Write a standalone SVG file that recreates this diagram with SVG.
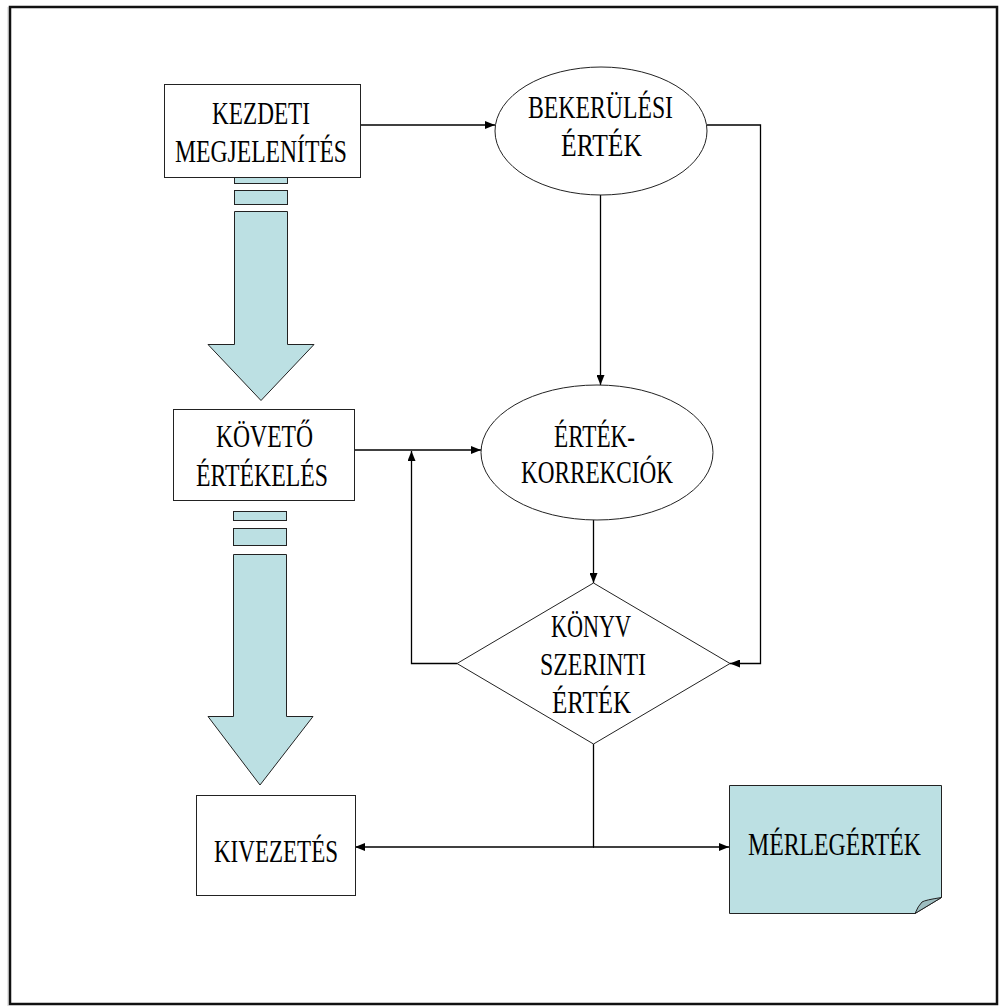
<svg xmlns="http://www.w3.org/2000/svg" width="999" height="1006" viewBox="0 0 999 1006">
<style>
.t{font-family:"Liberation Serif","Times New Roman",serif;font-size:31px;fill:#000}
.box{fill:#fff;stroke:#222;stroke-width:1}
.cy{fill:#bce0e3;stroke:#222;stroke-width:1}
.ln{fill:none;stroke:#000;stroke-width:1.3}
</style>
<defs>
<marker id="ah" markerUnits="userSpaceOnUse" markerWidth="10" markerHeight="8" refX="10" refY="4" orient="auto">
<path d="M0,0 L10,4 L0,8 z" fill="#000"/>
</marker>
</defs>
<rect x="0" y="0" width="999" height="1006" fill="#fff"/>
<line x1="8" y1="7" x2="8" y2="1006" stroke="#ccc" stroke-width="1"/>
<rect x="10" y="7" width="987" height="997" fill="none" stroke="#111" stroke-width="2.5"/>

<g id="bigarrow1">
<rect class="cy" x="234.5" y="176.5" width="53" height="7"/>
<rect class="cy" x="234.5" y="190.5" width="53" height="14"/>
<polygon class="cy" points="234.5,211.5 287.5,211.5 287.5,344.5 314,344.5 261,400.5 208,344.5 234.5,344.5"/>
</g>
<g id="bigarrow2">
<rect class="cy" x="233.5" y="511.5" width="53" height="9"/>
<rect class="cy" x="233.5" y="528.5" width="53" height="17"/>
<polygon class="cy" points="233.5,554.5 286.5,554.5 286.5,716.5 313,716.5 260,785 208,716.5 233.5,716.5"/>
</g>

<g id="connectors">
<line class="ln" x1="360" y1="125" x2="495" y2="125" marker-end="url(#ah)"/>
<line class="ln" x1="600.5" y1="195" x2="600.5" y2="385" marker-end="url(#ah)"/>
<polyline class="ln" points="707,125 760.5,125 760.5,663.5 730,663.5" marker-end="url(#ah)"/>
<line class="ln" x1="354" y1="450" x2="481" y2="450" marker-end="url(#ah)"/>
<polyline class="ln" points="457,663.5 411.5,663.5 411.5,451" marker-end="url(#ah)"/>
<line class="ln" x1="593.5" y1="520" x2="593.5" y2="583" marker-end="url(#ah)"/>
<line class="ln" x1="593.5" y1="744" x2="593.5" y2="847"/>
<line class="ln" x1="594" y1="847" x2="355" y2="847" marker-end="url(#ah)"/>
<line class="ln" x1="593" y1="847" x2="729" y2="847" marker-end="url(#ah)"/>
</g>

<g id="kezdeti">
<rect class="box" x="164.5" y="84.5" width="196" height="93"/>
<text class="t" x="212" y="124" textLength="98" lengthAdjust="spacingAndGlyphs">KEZDETI</text>
<text class="t" x="175" y="162" textLength="172" lengthAdjust="spacingAndGlyphs">MEGJELENÍTÉS</text>
</g>
<g id="bekerulesi">
<ellipse class="box" cx="601" cy="131" rx="106" ry="64"/>
<text class="t" x="528" y="118" textLength="145" lengthAdjust="spacingAndGlyphs">BEKERÜLÉSI</text>
<text class="t" x="561" y="156" textLength="81" lengthAdjust="spacingAndGlyphs">ÉRTÉK</text>
</g>
<g id="koveto">
<rect class="box" x="173.5" y="409.5" width="181" height="91"/>
<text class="t" x="216" y="447" textLength="97" lengthAdjust="spacingAndGlyphs">KÖVETŐ</text>
<text class="t" x="196" y="486" textLength="132" lengthAdjust="spacingAndGlyphs">ÉRTÉKELÉS</text>
</g>
<g id="korrekciok">
<ellipse class="box" cx="597" cy="452.5" rx="116" ry="67.5"/>
<text class="t" x="554" y="447" textLength="81" lengthAdjust="spacingAndGlyphs">ÉRTÉK-</text>
<text class="t" x="521" y="483" textLength="152" lengthAdjust="spacingAndGlyphs">KORREKCIÓK</text>
</g>
<g id="konyv">
<polygon class="box" points="593.5,583 730,663.5 593.5,744 457,663.5"/>
<text class="t" x="551" y="637" textLength="80" lengthAdjust="spacingAndGlyphs">KÖNYV</text>
<text class="t" x="540" y="675" textLength="106" lengthAdjust="spacingAndGlyphs">SZERINTI</text>
<text class="t" x="552" y="713" textLength="79" lengthAdjust="spacingAndGlyphs">ÉRTÉK</text>
</g>
<g id="kivezetes">
<rect class="box" x="196.5" y="795.5" width="159" height="100"/>
<text class="t" x="214" y="862" textLength="124" lengthAdjust="spacingAndGlyphs">KIVEZETÉS</text>
</g>
<g id="merleg">
<polygon class="cy" points="729.5,785.5 941.5,785.5 941.5,897.5 915,913.5 729.5,913.5"/>
<path d="M941.5,897.5 Q925,900 922,902 Q918,906 915,913.5 z" fill="#9dbdc0" stroke="#222" stroke-width="1"/>
<text class="t" x="748" y="855" textLength="173" lengthAdjust="spacingAndGlyphs">MÉRLEGÉRTÉK</text>
</g>
</svg>
